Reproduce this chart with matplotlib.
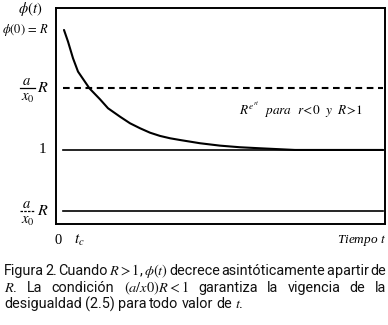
import matplotlib
matplotlib.use("Agg")
import matplotlib.pyplot as plt
from matplotlib.lines import Line2D

plt.rcParams['mathtext.fontset'] = 'stix'
plt.rcParams['font.family'] = ['Liberation Serif', 'DejaVu Serif']

# Data (y units: 1 = unit level)
curve_t = [0.243, 0.365, 0.517, 0.669, 1.018, 1.337, 1.581, 1.945, 2.249, 2.553,
           2.857, 3.161, 3.465, 3.769, 4.377, 4.985, 5.593, 6.201, 6.809, 7.264, 9.94]
curve_phi = [2.0, 1.903, 1.764, 1.653, 1.513, 1.4225, 1.3475, 1.2775, 1.2225, 1.181,
             1.144, 1.117, 1.0975, 1.083, 1.056, 1.036, 1.0225, 1.014, 1.006, 1.0, 1.0]
level_R = 2.0
level_aR_high = 1.515
level_one = 1.0
level_aR_low = 0.49
line_start, line_end = 0.22, 9.95
x_min, x_max = 0.0, 10.0
y_min, y_max = 0.383, 2.183
t_c = 0.72

W, H = 388, 325
fig = plt.figure(figsize=(W/100, H/100), dpi=100)
ax = fig.add_axes([56/W, 1-224/H, (385-56)/W, (224-8)/H])
ax.set_xlim(x_min, x_max)
ax.set_ylim(y_min, y_max)
for s in ax.spines.values():
    s.set_linewidth(1.4)
ax.set_xticks([])
ax.set_yticks([])

ax.plot(curve_t, curve_phi, color='black', lw=1.5, solid_capstyle='round')
ax.plot([line_start, line_end], [level_aR_high]*2, color='black', lw=1.5, ls=(0, (3.2, 2.2)))
ax.plot([line_start, line_end], [level_one]*2, color='black', lw=1.2)
ax.plot([line_start, line_end], [level_aR_low]*2, color='black', lw=1.2)

tr = ax.get_yaxis_transform()
fs = 10.5
ax.text(-0.042, 2.175, r'$\phi(t)$', transform=tr, ha='right', va='center', fontsize=fs)
ax.text(-0.022, level_R, r'$\phi(0)\,=\,R$', transform=tr, ha='right', va='center', fontsize=9)
ax.text(-0.03, level_one, '1', transform=tr, ha='right', va='center', fontsize=fs + 0.5)

# fraction labels a/x0 R built from pieces, anchored at the level lines
def frac_label(level, dashed_bar=False):
    ax.annotate('$a$', xy=(0, level), xycoords=tr, xytext=(-30, 7), textcoords='offset pixels',
                ha='center', va='center', fontsize=fs)
    ax.annotate('$x_0$', xy=(0, level), xycoords=tr, xytext=(-28, -10), textcoords='offset pixels',
                ha='center', va='center', fontsize=fs)
    ax.annotate('$R$', xy=(0, level), xycoords=tr, xytext=(-13, 0), textcoords='offset pixels',
                ha='center', va='center', fontsize=fs + 1)
    x0, y0 = tr.transform((0, level))
    fig.add_artist(Line2D([x0 - 36, x0 - 21], [y0 + 0.5, y0 + 0.5], transform=None,
                          lw=0.9, color='black',
                          linestyle=(0, (2, 1)) if dashed_bar else '-'))

frac_label(level_aR_high)
frac_label(level_aR_low, dashed_bar=True)

ax.text(0.05, y_min - 0.135, '0', ha='center', va='center', fontsize=fs)
ax.text(t_c, y_min - 0.135, r'$t_c$', ha='center', va='center', fontsize=fs + 0.5)
ax.text(x_max + 0.02, y_min - 0.135, 'Tiempo $t$', ha='right', va='center', fontsize=9.5, style='italic')
ax.text(7.45, 1.33, r'$R^{e^{rt}}$  $para$  $r\!<\!0$  $y$  $R\!>\!1$', ha='center', va='center', fontsize=9.5)

# caption, justified
cap_lines = [
    (r"Figura 2. Cuando $\mathbf{\mathit{R}} > 1$, $\mathit{\phi(t)}$ decrece asintóticamente a partir de", True),
    (r"$\mathbf{\mathit{R}}$. La condición $\mathit{(a/x0)R} < 1$ garantiza la vigencia de la", True),
    (r"desigualdad (2.5) para todo valor de $\mathbf{\mathit{t}}$.", False),
]
cap_y = [271, 288, 304]
left_px, right_px = 4, 386
renderer = fig.canvas.get_renderer()
cap_font = dict(fontsize=10.4, family=['Liberation Sans Narrow', 'Roboto', 'DejaVu Sans'], color='#111111')

def split_words(s):
    words, cur, inmath = [], '', False
    for ch in s:
        if ch == '$':
            inmath = not inmath
        if ch == ' ' and not inmath:
            if cur:
                words.append(cur)
            cur = ''
        else:
            cur += ch
    if cur:
        words.append(cur)
    return words

for (line, justify), yp in zip(cap_lines, cap_y):
    words = split_words(line)
    texts = [fig.text(0, 1 - yp/H, w, va='center', ha='left', **cap_font) for w in words]
    widths = [t.get_window_extent(renderer).width for t in texts]
    total = sum(widths)
    if justify and len(words) > 1:
        gap = (right_px - left_px - total) / (len(words) - 1)
    else:
        gap = 3.0
    x = left_px
    for t, w in zip(texts, widths):
        t.set_x(x / W)
        x += w + gap

fig.savefig('out.png', dpi=100)
